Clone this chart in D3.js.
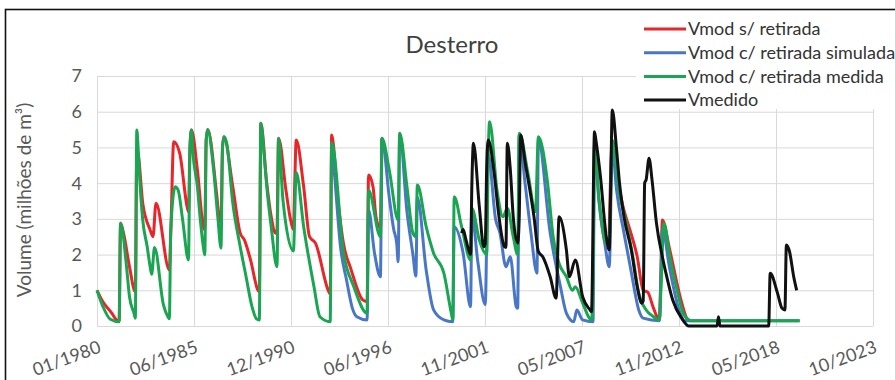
<!DOCTYPE html>
<html>
<head>
<meta charset="utf-8">
<script src="https://cdn.jsdelivr.net/npm/d3@7"></script>
<style>
  body { margin: 0; background: #fff; }
  svg { display: block; font-family: Lato, "Open Sans", sans-serif; }
</style>
</head>
<body>
<div id="chart"></div>
<script>
// tick labels (Excel date axis, major unit 2000 days from 01/01/1980)
const xTickLabels = ["01/1980", "06/1985", "12/1990", "06/1996", "11/2001", "05/2007", "11/2012", "05/2018", "10/2023"]
const yTicks = [0, 1, 2, 3, 4, 5, 6, 7]
const seriesNames = ["Vmod s/ retirada", "Vmod c/ retirada simulada", "Vmod c/ retirada medida", "Vmedido"]
const seriesColors = ["#e8262a", "#4a76c6", "#1aa552", "#111111"]

// Vmod s/ retirada (red) - only the stretches where it is not hidden below the other lines
const vmodSemRetirada1 = [
  ["1980-01",1.0],["1980-05",0.68],["1980-11",0.36],["1981-02",0.17],["1981-04",0.12],["1981-05",2.88],
  ["1981-07",2.6],["1981-11",1.66],["1982-03",0.96],["1982-04",4.93],["1982-05",4.8],["1982-08",3.44],
  ["1983-01",2.69],["1983-03",2.5],["1983-05",3.44],["1984-02",1.57],["1984-03",2.6],["1984-05",5.16],
  ["1984-09",4.84],["1985-02",3.34],["1985-03",3.2],["1985-04",5.0],["1985-05",5.49],["1985-09",4.37],
  ["1986-01",2.78],["1986-02",2.7],["1986-03",5.2],["1986-04",5.5],["1986-10",3.72],["1986-12",2.97],
  ["1987-01",2.9],["1987-02",5.0],["1987-03",5.3],["1987-09",3.9],["1988-02",2.6],["1988-05",2.4],
  ["1988-09",1.85],["1989-02",1.0],["1989-03",0.96],["1989-04",5.68],["1989-08",4.0],["1989-11",3.06],
  ["1990-02",2.6],["1990-03",2.7],["1990-04",5.26],["1990-09",3.8],["1990-12",3.0],["1991-02",2.7],
  ["1991-03",4.0],["1991-04",5.21],["1991-09",3.9],["1992-01",2.5],["1992-05",2.32],["1993-02",0.96],
  ["1993-03",0.9],["1993-04",5.35],["1993-08",3.6],["1993-12",2.3],["1994-05",1.6],["1995-01",0.73],
  ["1995-04",0.68],["1995-05",4.23],["1995-08",3.9],["1995-10",3.06],["1996-01",2.74],["1996-02",5.26]
]
const vmodSemRetirada2 = [
  ["2008-12",2.6],["2009-02",5.2],["2009-05",4.3],["2009-09",3.4],["2010-02",2.69],["2010-07",1.94],
  ["2010-11",1.0],["2011-02",0.95],["2011-06",0.5],["2011-09",0.22],["2011-10",0.2],["2011-11",1.5],
  ["2011-12",2.97],["2012-05",2.13],["2012-12",0.82],["2013-04",0.26],["2013-05",0.17],["2013-07",0.15]
]

// Vmod c/ retirada simulada (blue)
const vmodSimulada = [
  ["1993-04",5.13],["1993-06",4.2],["1993-10",2.2],["1994-02",1.29],["1994-06",0.5],["1994-09",0.26],
  ["1995-04",0.17],["1995-05",3.25],["1995-09",2.04],["1996-01",1.38],["1996-02",5.26],["1996-07",3.6],
  ["1996-10",2.7],["1996-12",2.32],["1997-01",1.8],["1997-02",5.4],["1997-07",3.2],["1997-11",2.0],
  ["1998-01",1.4],["1998-02",3.6],["1998-08",1.57],["1999-01",0.45],["1999-08",0.17],["2000-02",0.12],
  ["2000-03",2.78],["2000-09",2.04],["2001-02",0.54],["2001-03",3.1],["2001-07",1.8],["2001-12",0.6],
  ["2002-02",4.8],["2002-07",3.0],["2002-10",2.6],["2003-02",1.66],["2003-05",1.94],["2003-09",0.54],
  ["2003-10",0.5],["2003-11",5.35],["2004-03",4.0],["2004-07",2.6],["2004-11",1.48],["2004-12",5.2],
  ["2005-08",2.6],["2006-03",1.1],["2006-07",0.36],["2006-12",0.12],["2007-02",0.45],["2007-06",0.17],
  ["2008-01",0.12],["2008-02",5.0],["2008-05",3.5],["2008-09",2.3],["2008-12",1.66],["2009-02",5.0],
  ["2009-05",3.8],["2009-10",2.6],["2010-03",1.5],["2010-08",0.45],["2010-11",0.22],["2011-10",0.15],
  ["2011-12",2.7],["2012-05",1.6],["2012-12",0.36],["2013-03",0.15],["2019-09",0.15]
]

// Vmod c/ retirada medida (green)
const vmodMedida = [
  ["1980-01",1.0],["1980-05",0.55],["1980-10",0.19],["1981-04",0.12],["1981-05",2.88],["1981-09",1.66],
  ["1981-11",0.82],["1982-02",0.36],["1982-03",0.22],["1982-04",5.49],["1982-05",4.9],["1982-06",4.09],
  ["1982-08",2.97],["1982-11",2.22],["1983-01",1.66],["1983-02",1.45],["1983-04",2.2],["1983-10",0.6],
  ["1984-01",0.26],["1984-02",0.2],["1984-03",2.7],["1984-06",3.9],["1984-08",3.8],["1984-11",2.97],
  ["1985-03",1.85],["1985-04",5.0],["1985-05",5.49],["1985-06",4.84],["1985-09",3.9],["1985-11",2.97],
  ["1986-01",2.22],["1986-02",1.99],["1986-03",5.2],["1986-04",5.5],["1986-08",4.37],["1986-11",2.97],
  ["1987-01",2.18],["1987-02",5.0],["1987-03",5.3],["1987-05",5.1],["1987-09",3.44],["1988-02",2.22],
  ["1988-06",1.38],["1988-10",0.54],["1989-01",0.2],["1989-03",0.17],["1989-04",5.68],["1989-06",4.9],
  ["1989-08",3.9],["1989-11",2.78],["1990-03",1.66],["1990-04",5.26],["1990-07",3.53],["1991-02",2.1],
  ["1991-04",4.3],["1991-09",2.78],["1992-04",1.1],["1992-08",0.26],["1993-03",0.12],["1993-04",5.13],
  ["1993-12",2.04],["1994-07",1.1],["1995-04",0.36],["1995-05",3.8],["1996-01",2.5],["1996-02",5.26],
  ["1996-07",4.37],["1997-01",2.97],["1997-02",5.4],["1997-07",3.9],["1997-11",2.6],["1998-01",2.5],
  ["1998-02",3.95],["1998-08",2.78],["1999-01",2.04],["1999-08",1.48],["2000-01",0.36],["2000-02",0.17],
  ["2000-03",3.62],["2000-08",2.78],["2001-02",1.85],["2001-03",3.3],["2001-08",2.4],["2002-01",2.0],
  ["2002-02",4.8],["2002-03",5.72],["2002-08",3.8],["2002-12",3.06],["2003-03",3.3],["2003-07",2.5],
  ["2003-10",2.0],["2003-11",5.4],["2004-05",4.27],["2004-10",3.2],["2004-12",5.3],["2005-06",4.09],
  ["2005-10",2.5],["2006-02",1.75],["2006-07",1.38],["2006-11",1.0],["2007-01",1.1],["2007-06",0.64],
  ["2007-12",0.17],["2008-01",1.2],["2008-02",5.1],["2008-05",3.6],["2008-10",2.3],["2008-12",2.4],
  ["2009-02",5.2],["2009-07",3.7],["2009-11",2.97],["2010-04",1.94],["2010-08",0.92],["2011-01",0.45],
  ["2011-06",0.26],["2011-10",0.17],["2011-11",1.0],["2012-01",2.88],["2012-05",1.94],["2012-10",1.0],
  ["2013-02",0.36],["2013-06",0.17],["2013-07",0.15],["2019-09",0.15]
]

// Vmedido (black)
const vMedido = [
  ["2000-08",2.6],["2000-09",2.7],["2000-11",2.4],["2001-02",2.0],["2001-03",4.0],["2001-04",5.12],
  ["2001-08",3.34],["2001-11",2.22],["2001-12",2.3],["2002-01",4.5],["2002-02",5.21],["2002-06",4.3],
  ["2002-09",3.16],["2003-01",2.22],["2003-02",2.2],["2003-03",5.12],["2003-05",4.4],["2003-07",3.06],
  ["2003-10",2.32],["2003-11",3.0],["2003-12",5.35],["2004-03",4.6],["2004-09",3.06],["2004-12",2.08],
  ["2005-03",1.94],["2005-08",1.38],["2005-12",0.78],["2006-02",3.06],["2006-07",2.13],["2006-09",1.38],
  ["2007-01",1.85],["2007-06",0.82],["2007-11",0.45],["2007-12",0.4],["2008-02",5.44],["2008-03",5.2],
  ["2008-06",4.2],["2008-10",2.5],["2008-12",2.13],["2009-01",4.0],["2009-02",6.05],["2009-05",4.93],
  ["2009-07",4.0],["2009-10",3.06],["2010-03",2.13],["2010-07",1.1],["2010-10",0.64],["2010-11",0.7],
  ["2010-12",4.0],["2011-01",4.1],["2011-03",4.7],["2011-05",4.1],["2011-08",2.88],["2011-12",1.94],
  ["2012-03",1.38],["2012-07",0.73],["2013-01",0.22],["2013-06",0.0],["2015-01",0.0],["2015-02",0.26],
  ["2015-03",0.0],["2017-12",0.0],["2018-01",1.48],["2018-06",0.92],["2018-09",0.5],["2018-11",0.45],
  ["2018-12",2.27],["2019-02",2.1],["2019-05",1.38],["2019-07",1.0]
]

const width = 895, height = 380
const margin = { left: 97, right: 22, top: 76, bottom: 54 }

const parseMonth = d3.timeParse("%Y-%m")
const xStart = new Date(1980, 0, 1)
const tickDates = xTickLabels.map((t, i) => d3.timeDay.offset(xStart, i * 2000))

const x = d3.scaleTime()
    .domain([xStart, tickDates[tickDates.length - 1]])
    .range([margin.left, width - margin.right])
const y = d3.scaleLinear()
    .domain([0, 7])
    .range([height - margin.bottom, margin.top])

const svg = d3.select("#chart").append("svg")
    .attr("width", width)
    .attr("height", height)

svg.append("rect").attr("width", width).attr("height", height).attr("fill", "#fff")

// outer frame of the figure
svg.append("rect")
    .attr("x", 5.5).attr("y", 9.5)
    .attr("width", width + 20).attr("height", height + 20)
    .attr("fill", "none").attr("stroke", "#111").attr("stroke-width", 1.6)

// gridlines
const grid = svg.append("g")
grid.selectAll(".hg").data(yTicks).join("line")
    .attr("x1", margin.left).attr("x2", width - margin.right)
    .attr("y1", d => y(d) + 0.5).attr("y2", d => y(d) + 0.5)
    .attr("stroke", "#d9d9d9").attr("stroke-width", 1)
grid.selectAll(".vg").data(tickDates).join("line")
    .attr("x1", d => Math.round(x(d)) + 0.5).attr("x2", d => Math.round(x(d)) + 0.5)
    .attr("y1", y(7)).attr("y2", y(0))
    .attr("stroke", "#d9d9d9").attr("stroke-width", 1)

// y tick labels
svg.append("g").selectAll("text").data(yTicks).join("text")
    .attr("x", 82).attr("y", d => y(d))
    .attr("dy", "0.36em")
    .attr("text-anchor", "end")
    .attr("fill", "#595959")
    .style("font-size", "18px")
    .text(d => d)

// x tick labels, rotated like Excel does
svg.append("g").selectAll("text").data(tickDates).join("text")
    .attr("transform", d => `translate(${x(d) + 5},${y(0) + 26}) rotate(-20)`)
    .attr("text-anchor", "end")
    .attr("fill", "#595959")
    .style("font-size", "18px")
    .text((d, i) => xTickLabels[i])

// y axis title
svg.append("text")
    .attr("transform", "translate(31,200) rotate(-90)")
    .attr("text-anchor", "middle")
    .attr("fill", "#595959")
    .style("font-size", "19px")
    .text("Volume (milhões de m³)")

// title
svg.append("text")
    .attr("x", 452).attr("y", 53)
    .attr("text-anchor", "middle")
    .attr("fill", "#404040")
    .style("font-size", "24px")
    .text("Desterro")

const line = d3.line()
    .curve(d3.curveMonotoneX)
    .x(d => x(parseMonth(d[0])))
    .y(d => y(d[1]))

const drawn = [
    [vmodSemRetirada1, 0], [vmodSemRetirada2, 0],
    [vmodSimulada, 1], [vmodMedida, 2], [vMedido, 3]
]
svg.append("g").selectAll("path").data(drawn).join("path")
    .attr("d", d => line(d[0]))
    .attr("fill", "none")
    .attr("stroke", d => seriesColors[d[1]])
    .attr("stroke-width", 3)
    .attr("stroke-linejoin", "round")

// legend, white box on top of the gridlines
const legend = svg.append("g")
legend.append("rect")
    .attr("x", 636).attr("y", 14).attr("width", 262).attr("height", 95)
    .attr("fill", "#fff")
const item = legend.selectAll("g").data(seriesNames).join("g")
    .attr("transform", (d, i) => `translate(644,${29 + i * 23.7})`)
item.append("line")
    .attr("x1", 0).attr("x2", 42)
    .attr("stroke", (d, i) => seriesColors[i])
    .attr("stroke-width", 3)
item.append("text")
    .attr("x", 44).attr("dy", "0.35em")
    .attr("fill", "#333")
    .style("font-size", "18px")
    .text(d => d)
</script>
</body>
</html>
